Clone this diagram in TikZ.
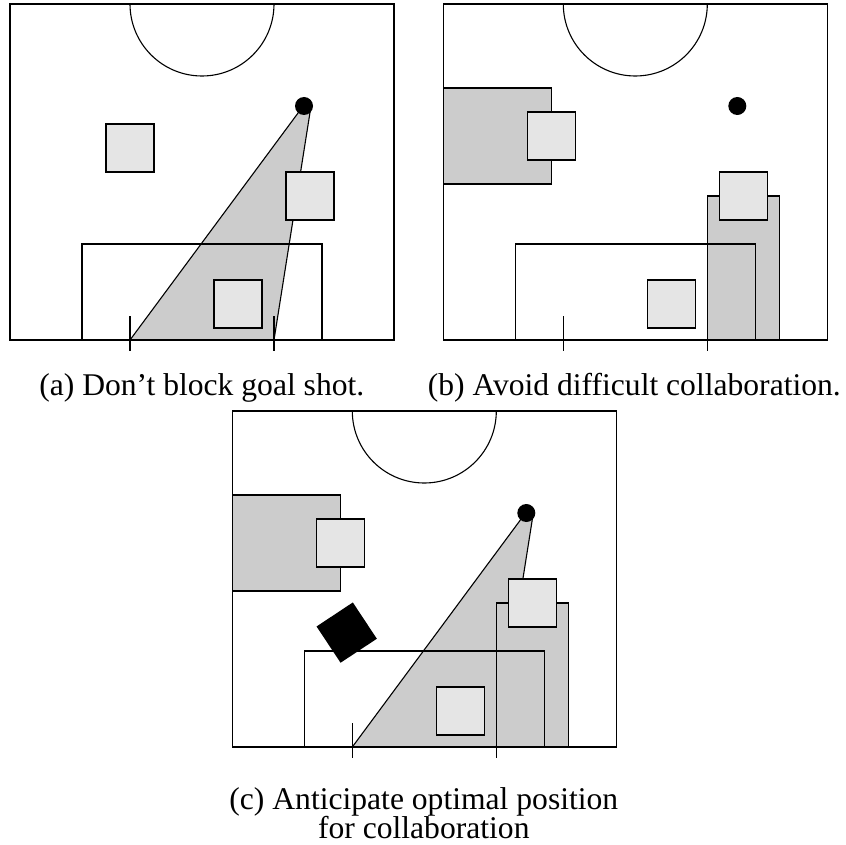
\documentclass[tikz,border=0pt]{standalone}
\usepackage{fontspec}
\setmainfont{Liberation Serif}
\definecolor{zonegray}{gray}{0.8}
\definecolor{boxgray}{gray}{0.9}
\newcommand{\pitchlines}{%
  \draw[ln] (0,0) rectangle (384,336);
  \draw[ln] (120,0) arc[start angle=180, end angle=0, radius=72];
  \draw[ln] (72,336) -- (72,240) -- (312,240) -- (312,336);
}
\newcommand{\goalticks}{%
  \draw[ln] (120,312) -- (120,347);
  \draw[ln] (264,312) -- (264,347);
}
\begin{document}
\begin{tikzpicture}[x=1pt,y=-1pt,
  ln/.style={draw=black, line width=1.1pt},
  zone/.style={ln, fill=zonegray},
  mate/.style={ln, fill=boxgray},
  ballst/.style={fill=black},
  captext/.style={font=\fontsize{31.6}{29}\selectfont, anchor=base, inner sep=0pt}]
\useasboundingbox (0,0) rectangle (846,845);
% ---------------- (a)
\begin{scope}[shift={(10,4)}]
  \filldraw[zone] (120,336) -- (288.8,108) -- (300,108.5) -- (264,336) -- cycle;
  \pitchlines
  \filldraw[mate] (96,120) rectangle (144,168);
  \filldraw[mate] (276,168) rectangle (324,216);
  \filldraw[mate] (204,276) rectangle (252,324);
  \fill[ballst] (294,102) circle[radius=9];
  \goalticks
\end{scope}
\node[captext] (capa) at (201.8,395) {(a) Don’t block goal shot.};
% ---------------- (b)
\begin{scope}[shift={(443.3,4)}]
  \filldraw[zone] (0,84) rectangle (108,180);
  \filldraw[zone] (264,192) rectangle (336,336);
  \pitchlines
  \filldraw[mate] (84,108) rectangle (132,156);
  \filldraw[mate] (276,168) rectangle (324,216);
  \filldraw[mate] (204,276) rectangle (252,324);
  \fill[ballst] (294,102) circle[radius=9];
  \goalticks
\end{scope}
\node[captext] (capb) at (634.3,395) {(b) Avoid difficult collaboration.};
% ---------------- (c)
\begin{scope}[shift={(232.3,411)}]
  \filldraw[zone] (120,336) -- (288.8,108) -- (300,108.5) -- (264,336) -- cycle;
  \filldraw[zone] (0,84) rectangle (108,180);
  \filldraw[zone] (264,192) rectangle (336,336);
  \pitchlines
  \filldraw[mate] (84,108) rectangle (132,156);
  \filldraw[mate] (276,168) rectangle (324,216);
  \filldraw[mate] (204,276) rectangle (252,324);
  \fill[black, rotate around={33.5:(114.4,221.6)}] (92.65,199.85) rectangle (136.15,243.35);
  \fill[ballst] (294,102) circle[radius=9];
  \goalticks
\end{scope}
\node[captext] (capc1) at (423.8,809) {(c) Anticipate optimal position};
\node[captext] (capc2) at (423.8,838) {for collaboration};
\end{tikzpicture}
\end{document}
